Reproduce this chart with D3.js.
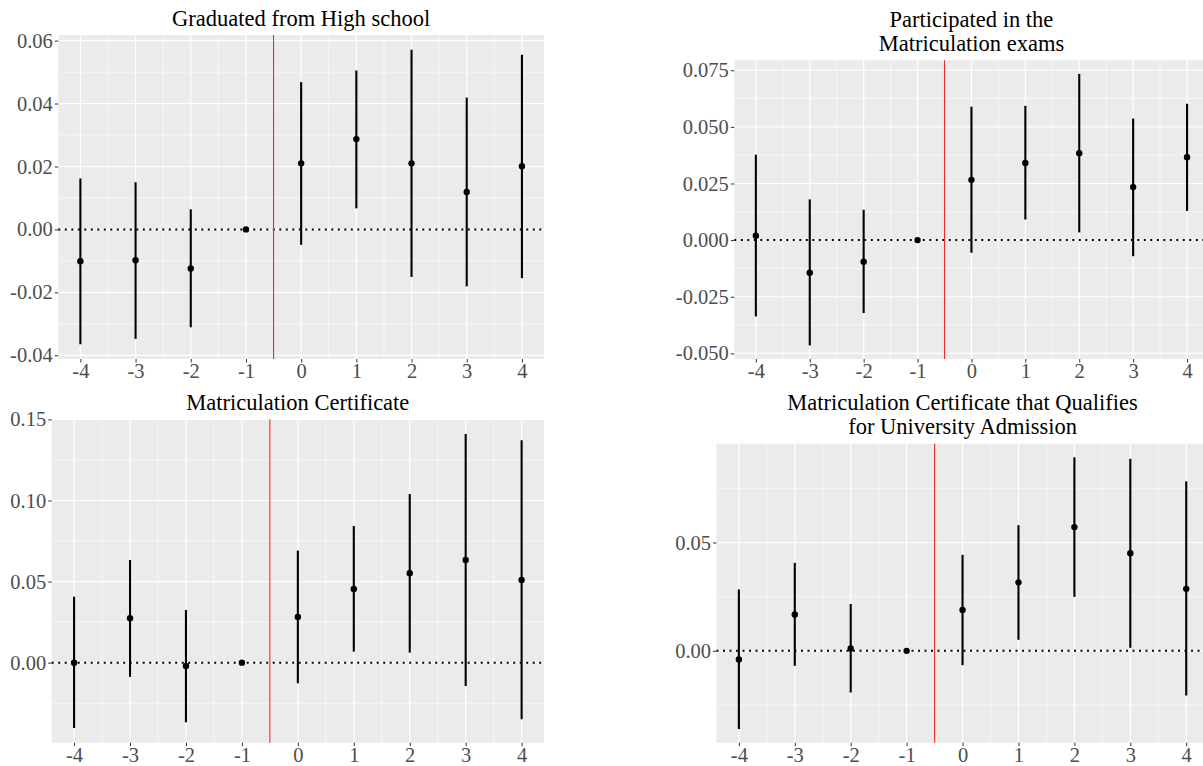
<!DOCTYPE html>
<html>
<head>
<meta charset="utf-8">
<script src="https://cdn.jsdelivr.net/npm/d3@7"></script>
<style>
  html, body { margin: 0; padding: 0; background: #fff; }
  svg { display: block; }
  text { font-family: "Liberation Serif", "Times New Roman", serif; }
</style>
</head>
<body>
<svg id="chart" width="1203" height="766"></svg>
<script>
// ---------------- DATA ----------------
const periods = [-4, -3, -2, -1, 0, 1, 2, 3, 4];
const xTicks = [-4, -3, -2, -1, 0, 1, 2, 3, 4];
const xMinor = [-3.5, -2.5, -1.5, -0.5, 0.5, 1.5, 2.5, 3.5];
const treatmentLine = -0.5;

// Panel 1: Graduated from High school
const title1 = ["Graduated from High school"];
const est1 = [-0.0101, -0.0098, -0.0124, 0, 0.0210, 0.0287, 0.0210, 0.0119, 0.0201];
const lo1  = [-0.0365, -0.0348, -0.0311, 0, -0.0049, 0.0067, -0.0151, -0.0181, -0.0155];
const hi1  = [0.0162, 0.0150, 0.0064, 0, 0.0468, 0.0505, 0.0571, 0.0419, 0.0555];
const yTicks1 = [-0.04, -0.02, 0, 0.02, 0.04, 0.06];
const yLabels1 = ["-0.04", "-0.02", "0.00", "0.02", "0.04", "0.06"];
const yMinor1 = [-0.03, -0.01, 0.01, 0.03, 0.05];

// Panel 2: Participated in the Matriculation exams
const title2 = ["Participated in the", "Matriculation exams"];
const est2 = [0.0019, -0.0144, -0.0095, 0, 0.0266, 0.0341, 0.0384, 0.0234, 0.0366];
const lo2  = [-0.0337, -0.0465, -0.0322, 0, -0.0056, 0.0091, 0.0034, -0.0071, 0.0129];
const hi2  = [0.0377, 0.0180, 0.0134, 0, 0.0589, 0.0593, 0.0734, 0.0537, 0.0602];
const yTicks2 = [-0.05, -0.025, 0, 0.025, 0.05, 0.075];
const yLabels2 = ["-0.050", "-0.025", "0.000", "0.025", "0.050", "0.075"];
const yMinor2 = [-0.0375, -0.0125, 0.0125, 0.0375, 0.0625];

// Panel 3: Matriculation Certificate
const title3 = ["Matriculation Certificate"];
const est3 = [0.0000, 0.0274, -0.0020, 0, 0.0282, 0.0454, 0.0551, 0.0633, 0.0510];
const lo3  = [-0.0403, -0.0088, -0.0368, 0, -0.0127, 0.0068, 0.0062, -0.0144, -0.0349];
const hi3  = [0.0407, 0.0633, 0.0325, 0, 0.0691, 0.0843, 0.1040, 0.1410, 0.1371];
const yTicks3 = [0, 0.05, 0.10, 0.15];
const yLabels3 = ["0.00", "0.05", "0.10", "0.15"];
const yMinor3 = [-0.025, 0.025, 0.075, 0.125];

// Panel 4: Matriculation Certificate that Qualifies for University Admission
const title4 = ["Matriculation Certificate that Qualifies", "for University Admission"];
const est4 = [-0.0040, 0.0168, 0.0011, 0, 0.0189, 0.0316, 0.0571, 0.0450, 0.0286];
const lo4  = [-0.0361, -0.0069, -0.0192, 0, -0.0066, 0.0051, 0.0249, 0.0014, -0.0206];
const hi4  = [0.0283, 0.0406, 0.0216, 0, 0.0443, 0.0580, 0.0893, 0.0886, 0.0782];
const yTicks4 = [0, 0.05];
const yLabels4 = ["0.00", "0.05"];
const yMinor4 = [-0.025, 0.025, 0.075];

// ---------------- LAYOUT ----------------
const FONT = '"Liberation Serif", "Times New Roman", serif';
const panels = [
  { title: title1, est: est1, lo: lo1, hi: hi1, yt: yTicks1, yl: yLabels1, ym: yMinor1,
    box: { left: 58.3, right: 544, top: 35, bottom: 359 } },
  { title: title2, est: est2, lo: lo2, hi: hi2, yt: yTicks2, yl: yLabels2, ym: yMinor2,
    box: { left: 734.3, right: 1208.6, top: 60.3, bottom: 359 } },
  { title: title3, est: est3, lo: lo3, hi: hi3, yt: yTicks3, yl: yLabels3, ym: yMinor3,
    box: { left: 51.7, right: 544, top: 419.3, bottom: 742.7 } },
  { title: title4, est: est4, lo: lo4, hi: hi4, yt: yTicks4, yl: yLabels4, ym: yMinor4,
    box: { left: 716.5, right: 1208.6, top: 443.7, bottom: 742.7 } }
];

const svg = d3.select("#chart");

panels.forEach(p => {
  const b = p.box;
  const data = periods.map((t, i) => ({ t, est: p.est[i], lo: p.lo[i], hi: p.hi[i] }));

  const x = d3.scaleLinear().domain([-4.4, 4.4]).range([b.left, b.right]);
  const ymin = d3.min(data, d => Math.min(d.lo, d.est));
  const ymax = d3.max(data, d => Math.max(d.hi, d.est));
  const pad = (ymax - ymin) * 0.05;
  const y = d3.scaleLinear().domain([ymin - pad, ymax + pad]).range([b.bottom, b.top]);

  const g = svg.append("g");

  // panel background
  g.append("rect")
    .attr("x", b.left).attr("y", b.top)
    .attr("width", b.right - b.left).attr("height", b.bottom - b.top)
    .attr("fill", "#EBEBEB");

  // minor grid
  g.selectAll(".ymin").data(p.ym).join("line")
    .attr("x1", b.left).attr("x2", b.right)
    .attr("y1", d => y(d)).attr("y2", d => y(d))
    .attr("stroke", "#fff").attr("stroke-width", 0.6);
  g.selectAll(".xmin").data(xMinor).join("line")
    .attr("y1", b.top).attr("y2", b.bottom)
    .attr("x1", d => x(d)).attr("x2", d => x(d))
    .attr("stroke", "#fff").attr("stroke-width", 0.6);

  // major grid
  g.selectAll(".ymaj").data(p.yt).join("line")
    .attr("x1", b.left).attr("x2", b.right)
    .attr("y1", d => y(d)).attr("y2", d => y(d))
    .attr("stroke", "#fff").attr("stroke-width", 1.2);
  g.selectAll(".xmaj").data(xTicks).join("line")
    .attr("y1", b.top).attr("y2", b.bottom)
    .attr("x1", d => x(d)).attr("x2", d => x(d))
    .attr("stroke", "#fff").attr("stroke-width", 1.2);

  // y axis
  const yAxis = d3.axisLeft(y).tickValues(p.yt)
    .tickFormat((d, i) => p.yl[i]).tickSize(3.5).tickPadding(2);
  const ya = g.append("g").attr("transform", `translate(${b.left},0)`).call(yAxis)
    .attr("font-family", FONT).attr("font-size", 20.5);
  ya.select(".domain").remove();
  ya.selectAll(".tick line").attr("stroke", "#333333").attr("stroke-width", 1);
  ya.selectAll(".tick text")
    .attr("fill", "#4D4D4D")
    .attr("font-family", FONT)
    .style("font-family", FONT)
    .style("font-size", "20.5px");

  // x axis
  const xAxis = d3.axisBottom(x).tickValues(xTicks)
    .tickFormat(d => String(d)).tickSize(3.5).tickPadding(1);
  const xa = g.append("g").attr("transform", `translate(0,${b.bottom})`).call(xAxis)
    .attr("font-family", FONT).attr("font-size", 20.5);
  xa.select(".domain").remove();
  xa.selectAll(".tick line").attr("stroke", "#333333").attr("stroke-width", 1);
  xa.selectAll(".tick text")
    .attr("fill", "#4D4D4D")
    .attr("font-family", FONT)
    .style("font-family", FONT)
    .style("font-size", "20.5px");

  // dotted zero line
  g.append("line")
    .attr("x1", b.left).attr("x2", b.right)
    .attr("y1", y(0)).attr("y2", y(0))
    .attr("stroke", "#000").attr("stroke-width", 2)
    .attr("stroke-dasharray", "2,4.5");

  // treatment line
  g.append("line")
    .attr("x1", x(treatmentLine)).attr("x2", x(treatmentLine))
    .attr("y1", b.top).attr("y2", b.bottom)
    .attr("stroke", "#F0282A").attr("stroke-width", 1.1);

  // error bars
  g.selectAll(".bar").data(data.filter(d => d.hi !== d.lo)).join("line")
    .attr("x1", d => x(d.t)).attr("x2", d => x(d.t))
    .attr("y1", d => y(d.lo)).attr("y2", d => y(d.hi))
    .attr("stroke", "#000").attr("stroke-width", 2.1);

  // points
  g.selectAll(".pt").data(data).join("circle")
    .attr("cx", d => x(d.t)).attr("cy", d => y(d.est))
    .attr("r", 3.2)
    .attr("fill", "#000");

  // title
  const cx = (b.left + b.right) / 2;
  const n = p.title.length;
  p.title.forEach((line, i) => {
    g.append("text")
      .attr("x", cx)
      .attr("y", b.top - 9.3 - (n - 1 - i) * 24)
      .attr("text-anchor", "middle")
      .attr("fill", "#000")
      .style("font-family", FONT)
      .style("font-size", "22.5px")
      .text(line);
  });
});
</script>
</body>
</html>
